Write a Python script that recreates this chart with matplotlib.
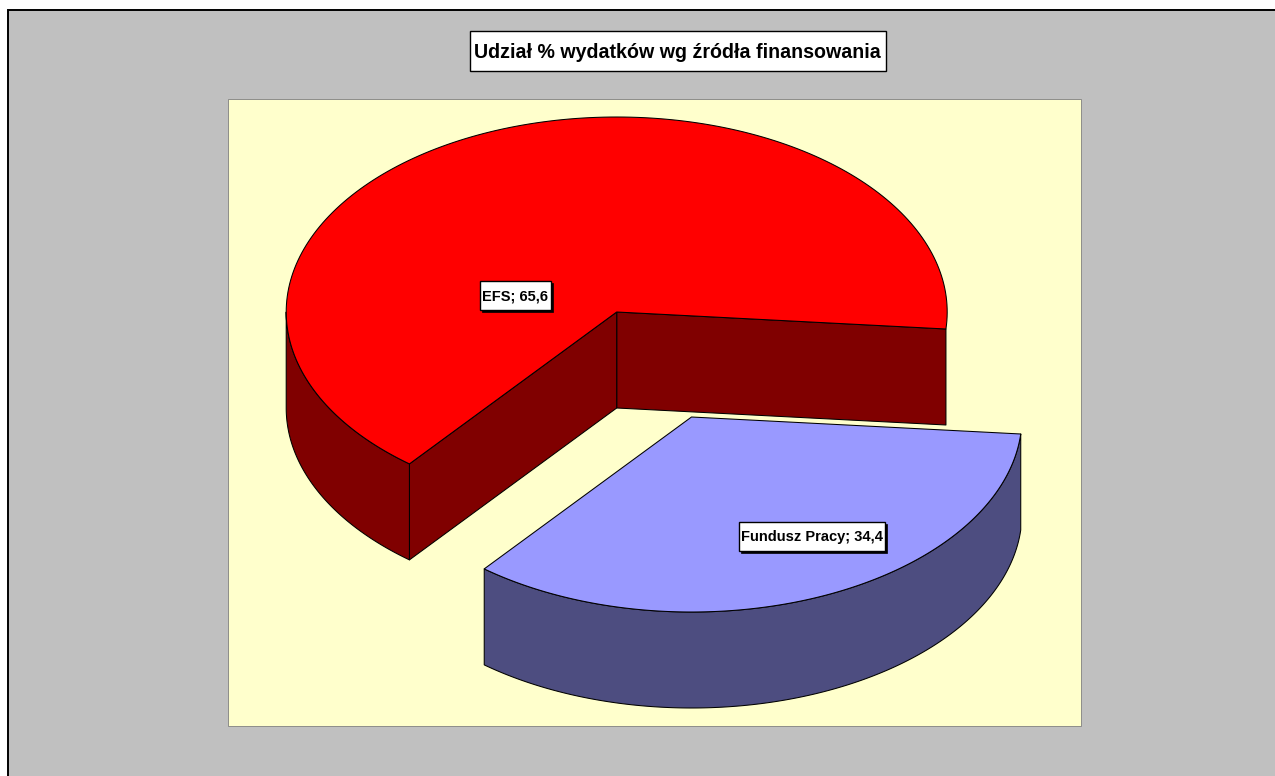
import numpy as np
import matplotlib
matplotlib.use("Agg")
import matplotlib.pyplot as plt
from matplotlib.patches import Polygon, Rectangle

plt.rcParams["font.family"] = ["Liberation Sans", "DejaVu Sans"]

title = "Udział % wydatków wg źródła finansowania"
categories = ["EFS", "Fundusz Pracy"]
shares = [65.6, 34.4]
top_colors = ["#FF0000", "#9999FF"]
side_colors = ["#800000", "#4D4D80"]

# pie geometry, in image pixels
cx, cy = 616.7, 312
rx, ry = 330.5, 195
depth = 96
start = 5
offset = (74.8, 105)  # the pulled out slice
lw = 0.75


def arc(x0, y0, t0, t1):
    t = np.radians(np.linspace(t0, t1, 200))
    return np.column_stack([x0 + rx * np.cos(t), y0 + ry * np.sin(t)])


def wall(pts):
    return np.vstack([pts, pts[::-1] + [0, depth]])


def add(pts, color):
    ax.add_patch(Polygon(pts, closed=True, fc=color, ec="black", lw=lw, joinstyle="round"))


fig = plt.figure(figsize=(12.75, 7.76), dpi=100, facecolor="white")
ax = fig.add_axes([0, 0, 1, 1])
ax.set_xlim(0, 1275)
ax.set_ylim(776, 0)
ax.axis("off")

# chart area and plot area
ax.add_patch(Rectangle((8, 10), 1300, 800, fc="#C0C0C0", ec="black", lw=1.4))
ax.add_patch(Rectangle((228, 99), 853, 627, fc="#FFFFCC", ec="#808080", lw=0.6))

split = start + shares[1] * 3.6
end = start + 360

# red slice: radial faces, outer wall, top
apex = np.array([[cx, cy]])
add(wall(np.vstack([apex, arc(cx, cy, start, start)])), side_colors[0])
add(wall(np.vstack([apex, arc(cx, cy, split, split)])), side_colors[0])
add(wall(arc(cx, cy, split, 180)), side_colors[0])
add(np.vstack([apex, arc(cx, cy, split, end)]), top_colors[0])

# blue slice, pulled out
bx, by = cx + offset[0], cy + offset[1]
add(wall(arc(bx, by, start, split)), side_colors[1])
add(np.vstack([[[bx, by]], arc(bx, by, start, split)]), top_colors[1])


def box(x0, y0, x1, y1, text, size, shadow=0):
    if shadow:
        ax.add_patch(Rectangle((x0 + shadow, y0 + shadow), x1 - x0, y1 - y0, fc="black", ec="black", lw=0.5))
    ax.add_patch(Rectangle((x0, y0), x1 - x0, y1 - y0, fc="white", ec="black", lw=1.0))
    ax.text((x0 + x1) / 2, (y0 + y1) / 2, text, ha="center", va="center_baseline",
            fontsize=size, fontweight="bold", color="black")


box(469.5, 30.5, 886, 71, title, 14.1)
box(479.5, 280.5, 551, 309.5, f"{categories[0]}; {shares[0]:.1f}".replace(".", ","), 10.5, shadow=2)
box(738.5, 521.5, 885, 550.5, f"{categories[1]}; {shares[1]:.1f}".replace(".", ","), 10.5, shadow=2)

fig.savefig("out.png", dpi=100)
